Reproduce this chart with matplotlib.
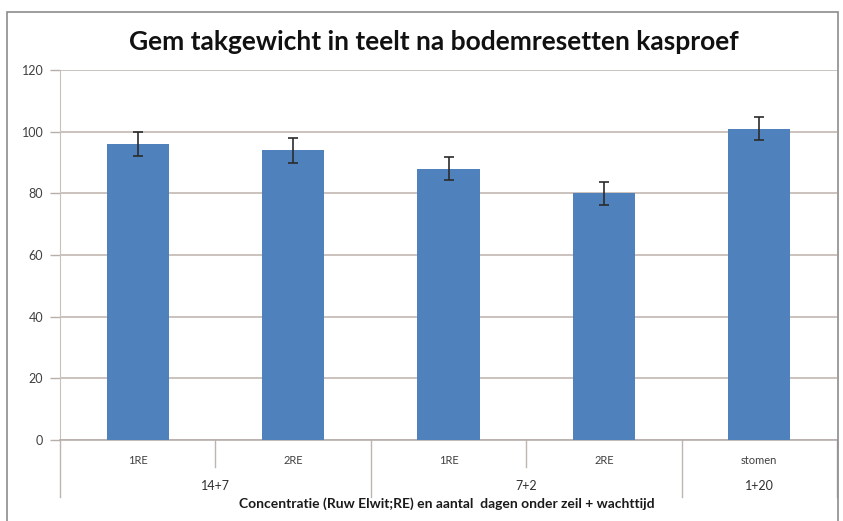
import matplotlib
matplotlib.use("Agg")
import matplotlib.pyplot as plt
from matplotlib.patches import Rectangle
import matplotlib.transforms as mtransforms

title = "Gem takgewicht in teelt na bodemresetten kasproef"
xlabel = "Concentratie (Ruw Elwit;RE) en aantal  dagen onder zeil + wachttijd"
sub_labels = ["1RE", "2RE", "1RE", "2RE", "stomen"]
group_labels = ["14+7", "7+2", "1+20"]
group_sizes = [2, 2, 1]
values = [96, 94, 88, 80, 101]
errors = [3.8, 4.0, 3.8, 3.8, 3.6]
yticks = [0, 20, 40, 60, 80, 100, 120]

plt.rcParams['font.family'] = ['Lato', 'DejaVu Sans']

W, H = 843, 521
fig = plt.figure(figsize=(W / 100, H / 100), dpi=100)
fig.patch.set_facecolor('white')

# outer chart frame
fig.add_artist(Rectangle((7 / W, -0.01), (838 - 7) / W, 1 - 12 / H + 0.01,
                         transform=fig.transFigure, fill=False,
                         edgecolor='#8c8c8c', linewidth=1.2))

left, right, top, bottom = 60, 837, 70, 440
ax = fig.add_axes([left / W, 1 - bottom / H, (right - left) / W, (bottom - top) / H])

x = list(range(len(values)))
ax.bar(x, values, width=0.4, color='#4F81BD', zorder=3)
ax.errorbar(x, values, yerr=errors, fmt='none', ecolor='#2b2b2b',
            elinewidth=1.2, capsize=3.5, capthick=1.2, zorder=4)

ax.set_xlim(-0.5, len(values) - 0.5)
ax.set_ylim(0, 120)
ax.set_yticks(yticks)
ax.set_yticklabels([str(v) for v in yticks], fontsize=9, color='#404040')
ax.tick_params(axis='y', length=7, width=1, color='#b8aeaa', pad=5)
ax.set_xticks([])
ax.grid(axis='y', color='#c2b6b1', linewidth=1.2, zorder=0)

for side in ['top', 'right']:
    ax.spines[side].set_visible(False)
ax.spines['left'].set_color('#c8c0bd')
ax.spines['bottom'].set_color('#b8aeaa')
ax.spines['bottom'].set_linewidth(1.2)

tr = mtransforms.blended_transform_factory(ax.transData, ax.transAxes)
line_kw = dict(color='#bdb5b2', linewidth=1, clip_on=False, transform=tr)

row1_y = (bottom - 461) / (bottom - top)
row2_y = (bottom - 486) / (bottom - top)
short_y = (bottom - 467) / (bottom - top)
long_y = (bottom - 497) / (bottom - top)

for i, lab in enumerate(sub_labels):
    ax.text(i, row1_y, lab, transform=tr, ha='center', va='center',
            fontsize=8, color='#404040')

start = 0
boundaries = [-0.5]
for g, n in zip(group_labels, group_sizes):
    center = start + (n - 1) / 2
    ax.text(center, row2_y, g, transform=tr, ha='center', va='center',
            fontsize=9, color='#303030')
    # inner separators
    for k in range(1, n):
        xs = start + k - 0.5
        ax.plot([xs, xs], [0, short_y], **line_kw)
    start += n
    boundaries.append(start - 0.5)

for b in boundaries:
    ax.plot([b, b], [0, long_y], **line_kw)

ax.text((447 - left) / (right - left), (bottom - 504) / (bottom - top), xlabel,
        transform=ax.transAxes, ha='center', va='center',
        fontsize=10, fontweight='bold', color='#1a1a1a')

fig.text(434 / W, 1 - 42 / H, title, ha='center', va='center',
         fontsize=19, fontweight='bold', color='#111111')

fig.savefig('out.png', dpi=100)
